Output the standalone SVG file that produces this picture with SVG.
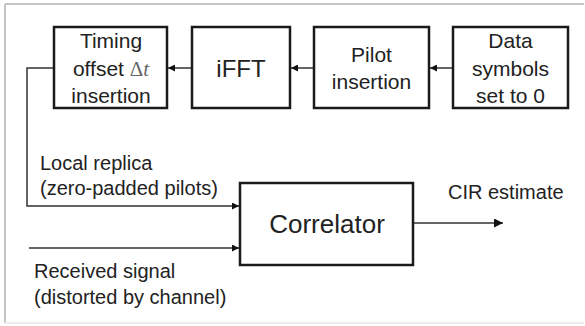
<svg xmlns="http://www.w3.org/2000/svg" width="585" height="326" viewBox="0 0 585 326">
<style>
.box{fill:#fff;stroke:#1a1a1a;stroke-width:2.5}
.t{font-family:"Liberation Sans",Arial,sans-serif;fill:#222;text-anchor:middle}
.b{font-size:21px}
.l{font-size:20px;text-anchor:start}
.c{stroke:#333;stroke-width:1.5;fill:none}
</style>
<defs>
<marker id="ah" viewBox="0 0 10 10" refX="10" refY="5" markerWidth="7" markerHeight="7" markerUnits="userSpaceOnUse" orient="auto">
<path d="M0,0 L10,5 L0,10 z" fill="#111"/>
</marker>
<marker id="ah2" viewBox="0 0 10 10" refX="10" refY="5" markerWidth="10" markerHeight="9" markerUnits="userSpaceOnUse" orient="auto">
<path d="M0,0 L10,5 L0,10 z" fill="#111"/>
</marker>
</defs>
<rect x="0" y="0" width="585" height="326" fill="#fff"/>
<g id="frame">
<line x1="5" y1="4" x2="584" y2="4" stroke="#c4c4c4" stroke-width="2"/>
<line x1="5" y1="4" x2="5" y2="323" stroke="#c4c4c4" stroke-width="2"/>
<line x1="5" y1="323" x2="584" y2="323" stroke="#ececec" stroke-width="2"/>
</g>
<g id="connectors">
<line class="c" x1="453" y1="68" x2="430" y2="68" marker-end="url(#ah)"/>
<line class="c" x1="314" y1="68" x2="291" y2="68" marker-end="url(#ah)"/>
<line class="c" x1="192" y1="68" x2="168" y2="68" marker-end="url(#ah)"/>
<polyline class="c" points="54,68 27,68 27,206 239,206" marker-end="url(#ah)"/>
<line class="c" x1="29" y1="248" x2="239" y2="248" marker-end="url(#ah)"/>
<line class="c" x1="414" y1="223" x2="503" y2="223" marker-end="url(#ah2)"/>
</g>
<g id="timing">
<rect class="box" x="54" y="27" width="113" height="81"/>
<text class="t b" x="111" y="48">Timing</text>
<text class="t b" x="111" y="76">offset <tspan font-family="'Liberation Serif','Times New Roman',serif" fill="#666">Δ<tspan font-style="italic">t</tspan></tspan></text>
<text class="t b" x="111" y="103">insertion</text>
</g>
<g id="ifft">
<rect class="box" x="192" y="27" width="98" height="81"/>
<text class="t" x="241" y="77" font-size="24">iFFT</text>
</g>
<g id="pilot">
<rect class="box" x="314" y="27" width="115" height="81"/>
<text class="t b" x="371.5" y="62">Pilot</text>
<text class="t b" x="371.5" y="89">insertion</text>
</g>
<g id="data">
<rect class="box" x="453" y="27" width="115" height="81"/>
<text class="t b" x="510.5" y="48">Data</text>
<text class="t b" x="510.5" y="76">symbols</text>
<text class="t b" x="510.5" y="103">set to 0</text>
</g>
<g id="correlator">
<rect class="box" x="240" y="183" width="173" height="82"/>
<text class="t" x="327" y="233" font-size="26">Correlator</text>
</g>
<g id="labels">
<text class="t l" x="40" y="170">Local replica</text>
<text class="t l" x="40" y="195">(zero-padded pilots)</text>
<text class="t l" x="34" y="278">Received signal</text>
<text class="t l" x="34" y="304">(distorted by channel)</text>
<text class="t l" x="448" y="199">CIR estimate</text>
</g>
</svg>
